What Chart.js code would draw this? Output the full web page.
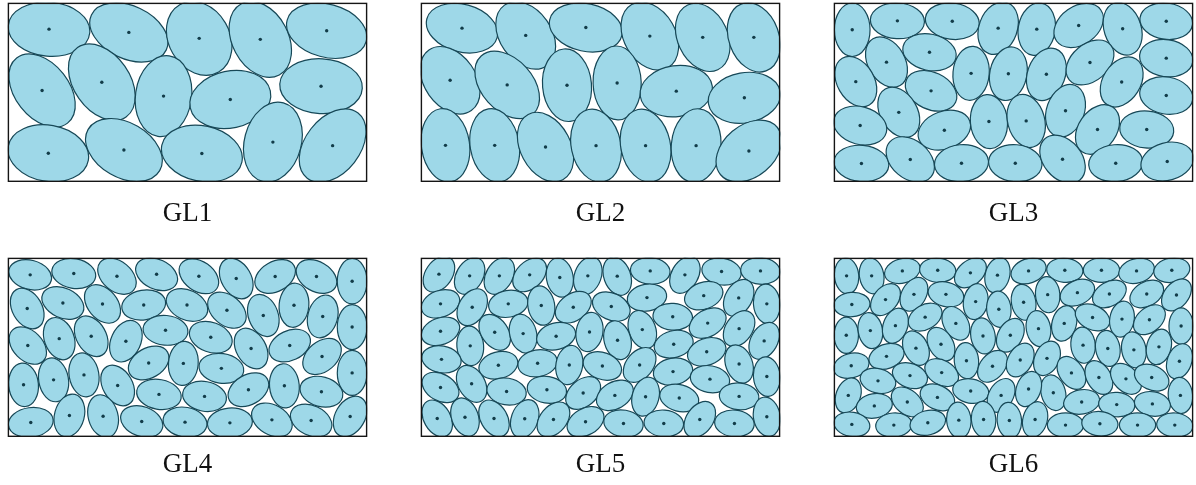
<!DOCTYPE html>
<html>
<head>
<meta charset="utf-8">
<script src="https://cdn.jsdelivr.net/npm/chart.js@4.4.1/dist/chart.umd.min.js"></script>
<style>
  body { margin: 0; background: #fff; }
  #fig { position: relative; width: 1196px; height: 485px; }
  #fig canvas { position: absolute; }
</style>
</head>
<body>
<div id="fig">
  <canvas id="gl1"></canvas>
  <canvas id="gl2"></canvas>
  <canvas id="gl3"></canvas>
  <canvas id="gl4"></canvas>
  <canvas id="gl5"></canvas>
  <canvas id="gl6"></canvas>
</div>
<script>
// Each row: [centre x, centre y, semi-axis a, semi-axis b, rotation of a in degrees]
// Units: pixels inside a 363 x 181 box, y measured down from the top edge
const labels = ["GL1", "GL2", "GL3", "GL4", "GL5", "GL6"];

const gl1 = [
  [41.7, 26.7, 41.3, 27.3, 5], [122.3, 30, 41.7, 26.7, 25], [193.3, 36, 39.3, 30.7, 60],
  [255, 37, 40.7, 28.3, 62], [322, 28.3, 41.3, 26.7, 15], [34.7, 88.7, 41.7, 27.3, 52],
  [95, 80.3, 42.7, 28.3, 55], [157.3, 94.3, 41, 28.3, -82], [224.7, 97.7, 41.3, 28.7, -12],
  [316.3, 84.3, 41.7, 27.7, 3], [41, 152, 41, 28.3, 10], [117.3, 148.7, 41.7, 27.7, 30],
  [196, 152.3, 41.3, 28, 12], [267.7, 140.7, 41, 28.7, -75], [328, 144.3, 41.7, 27.7, -52]
];

const gl2 = [
  [41.7, 25.7, 36.7, 24, 15], [106, 33, 37.3, 26, 55], [166.7, 25, 37.3, 24, 12],
  [231.3, 33.7, 36.7, 26, 60], [284.7, 35, 36, 25.3, 65], [336.3, 35, 36, 25.3, 70],
  [29.7, 78.3, 37.3, 26, 55], [87.3, 83, 39.3, 26, 48], [147.7, 83.3, 36.7, 24.7, 85],
  [198.3, 81, 37.3, 24.3, 88], [258, 89.3, 36.7, 25.7, -8], [326.7, 96, 36.7, 25.3, -10],
  [25, 144, 37.3, 24.3, 82], [74.7, 144, 37.3, 24.7, 80], [126, 145.7, 37.3, 25.3, 62],
  [177, 144.3, 37.3, 25, 78], [227, 144.3, 37.3, 25, 78], [278, 144.3, 37.3, 25, -85],
  [331.3, 149.7, 37.3, 26, -40]
];

const gl3 = [
  [18.7, 27.3, 27, 18, 90], [64.3, 18.3, 27.3, 18, 3], [119.7, 18.7, 27.3, 18.3, 8],
  [166, 25.7, 27.3, 19.3, -70], [205, 26.7, 26.7, 18.7, -80], [247.3, 23, 27.3, 19.3, -35],
  [291.7, 26.3, 27.3, 18.7, 72], [335.7, 18.7, 26.7, 18.3, 8], [53.3, 60, 27.3, 18.7, 60],
  [96.7, 50, 27.3, 18.3, 12], [138.7, 71.3, 27.3, 18.3, -85], [176.3, 71.7, 27.3, 18.7, -78],
  [214.7, 72.3, 27.3, 19, -70], [258.7, 60.3, 27.3, 18.7, -40], [290.7, 80, 27.3, 19, -58],
  [335.7, 56, 27, 18.7, 8], [22.3, 79.7, 27.3, 18.7, 60], [98.3, 89, 27.3, 18.7, 25],
  [335.7, 93.7, 27, 18.7, 10], [65.7, 110.7, 27.3, 18.7, 60], [26.7, 124, 27.3, 19, 15],
  [111.7, 128.7, 27.3, 19, -20], [156.7, 120, 27.3, 18.7, 85], [194.3, 119.3, 27.3, 18.7, 75],
  [234, 109, 27.3, 19, -70], [266.3, 128, 27.3, 19.3, -55], [316, 128, 27.3, 18.7, 5],
  [28, 162.3, 27.7, 18.3, 5], [77.3, 158.3, 27.3, 19.3, 40], [129, 162, 27.3, 18.7, -5],
  [183.3, 162, 27, 18.7, 5], [231, 158, 27.3, 19.3, 50], [284.7, 162, 27.3, 18.7, -5],
  [336.7, 160.3, 27, 19, -15]
];

const gl4 = [
  [22.7, 17.3, 22, 14.7, 15], [66.7, 16, 22.3, 15, 10], [110.3, 18.7, 22, 15, 40],
  [150.3, 16.7, 22.3, 15, 25], [193, 18.7, 22, 15, 35], [230.7, 21, 22, 15, 60],
  [270, 19, 22, 15, -30], [311.7, 19, 22, 15, 30], [347.7, 23.7, 23, 15, 90],
  [19.7, 51.3, 22, 15, 60], [55.7, 45.7, 22.3, 15, 25], [95.7, 46.7, 22, 15, 50],
  [137.3, 47.7, 22.3, 15, -10], [181, 47.7, 22, 15, 25], [221.3, 53, 22, 15, 40],
  [258, 58.3, 22, 15, 70], [289, 48, 22.3, 15, -85], [318, 59.3, 22, 15, -75],
  [347.7, 70, 22.7, 15, 90], [20.3, 88.7, 22, 15, 45], [52, 81.7, 22, 15, 70],
  [84.3, 79.3, 22, 15, 60], [119.3, 84.3, 22, 15, -65], [159.3, 73.3, 22.7, 15, 5],
  [205, 80.3, 22.3, 15, 20], [245.7, 91.7, 22, 15, 60], [284.7, 88.7, 22, 15, -25],
  [317.3, 99.7, 22, 15, -40], [142.3, 106.3, 22, 15, -30], [177.3, 106.7, 22.3, 15, -85],
  [215.7, 111.7, 22.7, 15, 8], [16, 128.3, 22, 15, 85], [46.3, 123.3, 22.3, 15, 80],
  [77, 118.3, 22.3, 15, 80], [111, 129, 22, 15, 60], [347.7, 116.3, 22.7, 15, 90],
  [279.3, 129.3, 22.3, 15, 85], [243, 133.3, 22, 15, -30], [316.7, 135.3, 22, 15, 15],
  [152.7, 138, 22.7, 15, 10], [198.7, 140, 22.3, 15, 10], [23.3, 166.3, 22.7, 15, -8],
  [62.3, 159.3, 22, 15, -75], [96.3, 160, 22, 15, 75], [135.3, 165.3, 22, 15, 20],
  [179, 166, 22.3, 15, 10], [224.3, 166.7, 22.7, 15, -5], [266.7, 163.7, 22, 15, 30],
  [306.3, 164.3, 22, 15, 25], [345.7, 160.3, 22, 15, -60]
];

const gl5 = [
  [18.4, 16.6, 20, 13.5, -55], [49.4, 18.3, 20, 13.5, -60], [79.4, 18.3, 20, 13.5, -60],
  [110, 17.3, 20, 13.5, -45], [140.4, 20, 20, 13.5, 80], [168.7, 18.3, 20, 13.5, -70],
  [20, 46.6, 20, 13.5, -20], [52, 50, 20, 13.5, -60], [88.4, 46.6, 20, 13.5, -10],
  [121.7, 48.3, 20, 13.5, 80], [154, 50, 20, 13.5, -35], [20, 74.3, 20, 13.5, -20],
  [50, 89, 20, 13.5, 85], [74.7, 75.3, 20, 13.5, 55], [103.4, 76.6, 20, 13.5, 75],
  [136.7, 79.3, 20, 13.5, -15], [170.4, 75, 20, 13.5, -80], [21, 102.6, 20, 13.5, 10],
  [78.4, 108.6, 20, 13.5, -15], [118, 106.6, 20, 13.5, -10], [150, 108.3, 20, 13.5, -80],
  [20, 131, 20, 13.5, 30], [51.4, 127.3, 20, 13.5, 60], [86.7, 135, 20, 13.5, 10],
  [127.4, 133.3, 20, 13.5, 10], [164, 136.6, 20, 13.5, -40], [16.7, 162.3, 20, 13.5, 60],
  [44.7, 161, 20, 13.5, 70], [74, 162.3, 20, 13.5, 60], [105, 162.6, 20, 13.5, -70],
  [134, 163.3, 20, 13.5, -50], [166.4, 165.6, 20, 13.5, -30],
  [198.4, 18.6, 20, 13.5, 70], [231.7, 13.3, 20, 13.5, 5], [266.7, 17.3, 20, 13.5, -60],
  [303.7, 14, 20, 13.5, 10], [343, 13.3, 20, 13.5, 5], [192.4, 49.3, 20, 13.5, 25],
  [228.4, 40.3, 20, 13.5, -10], [285.7, 38.3, 20, 13.5, -20], [321, 40.6, 20, 13.5, -60],
  [349.4, 46.6, 20, 13.5, 85], [223.7, 72.6, 20, 13.5, 70], [254.4, 59.6, 20, 13.5, 5],
  [289.7, 66, 20, 13.5, -30], [321.4, 71.6, 20, 13.5, -55], [346.7, 84, 20, 13.5, -60],
  [198.7, 83.3, 20, 13.5, 75], [255.4, 87.3, 20, 13.5, -15], [288.7, 95, 20, 13.5, -20],
  [183.4, 109.3, 20, 13.5, 20], [221, 108.3, 20, 13.5, -50], [254.7, 115, 20, 13.5, -10],
  [321.4, 107.3, 20, 13.5, 70], [292, 122.6, 20, 13.5, 10], [349.4, 120, 20, 13.5, 85],
  [196, 139, 20, 13.5, -30], [227, 140.3, 20, 13.5, -75], [261, 141.6, 20, 13.5, 15],
  [321.4, 140, 20, 13.5, 5], [204.7, 167.3, 20, 13.5, 10], [245.4, 167.3, 20, 13.5, 5],
  [281.7, 163.3, 20, 13.5, -55], [316.7, 167.3, 20, 13.5, 5], [349.4, 160.6, 20, 13.5, 80]
];

const gl6 = [
  [13, 18.3, 18.3, 12.3, 85], [38.3, 18.3, 18.3, 12.3, 80], [69.3, 13.3, 18.3, 12.3, -15],
  [105, 12.6, 18.3, 12.3, 5], [138, 15.3, 18.3, 12.3, -40], [165.3, 17.6, 18.3, 12.3, -75],
  [18.3, 47.3, 18.3, 12.3, -5], [52.3, 42.3, 18.3, 12.3, -50], [81, 37, 18.3, 12.3, -60],
  [113.3, 37, 18.3, 12.3, 15], [143.3, 44.3, 18.3, 12.3, -80], [166.7, 52, 18.3, 12.3, 85],
  [12.7, 78.3, 18.3, 12.3, 90], [37, 73.6, 18.3, 12.3, 80], [62.3, 68.6, 18.3, 12.3, -70],
  [92.3, 60, 18.3, 12.3, -30], [123.3, 66.3, 18.3, 12.3, 60], [150.7, 79, 18.3, 12.3, 80],
  [178.3, 78.3, 18.3, 12.3, -60], [17.7, 109, 18.3, 12.3, -15], [53.3, 99.6, 18.3, 12.3, -20],
  [83, 91.3, 18.3, 12.3, 65], [108.3, 87.3, 18.3, 12.3, 60], [134, 104, 18.3, 12.3, 85],
  [160.3, 109.6, 18.3, 12.3, -50], [44.7, 124.3, 18.3, 12.3, 15], [77, 119, 18.3, 12.3, 20],
  [109, 116, 18.3, 12.3, 30], [14.7, 139, 18.3, 12.3, -70], [41, 149.6, 18.3, 12.3, -10],
  [74.3, 145.6, 18.3, 12.3, 40], [104.7, 141, 18.3, 12.3, 25], [138.3, 134.6, 18.3, 12.3, 10],
  [169, 139, 18.3, 12.3, -60], [18.3, 168.3, 18.3, 12.3, 10], [60.7, 169, 18.3, 12.3, -5],
  [95, 166.6, 18.3, 12.3, -15], [126.3, 164, 18.3, 12.3, 85], [151.3, 163.3, 18.3, 12.3, 85],
  [177.3, 164.3, 18.3, 12.3, 85],
  [196.7, 13.3, 18.3, 12.3, -20], [233.3, 12.6, 18.3, 12.3, 5], [270.3, 12.6, 18.3, 12.3, 0],
  [305.7, 13.3, 18.3, 12.3, -15], [341.3, 12.6, 18.3, 12.3, -10], [191.7, 45, 18.3, 12.3, 80],
  [216, 37.3, 18.3, 12.3, 85], [246, 35.3, 18.3, 12.3, -25], [278.3, 36.6, 18.3, 12.3, -30],
  [316, 36.6, 18.3, 12.3, -30], [346, 37.6, 18.3, 12.3, -50], [206.7, 71.6, 18.3, 12.3, 80],
  [232.7, 66.3, 18.3, 12.3, -75], [261.3, 60.3, 18.3, 12.3, 25], [291, 62, 18.3, 12.3, -80],
  [318.7, 62.6, 18.3, 12.3, -40], [350.7, 69, 18.3, 12.3, 90], [188.3, 103.3, 18.3, 12.3, -60],
  [215.3, 101.6, 18.3, 12.3, -65], [251.7, 88.3, 18.3, 12.3, 85], [276.7, 91.6, 18.3, 12.3, 80],
  [303, 93, 18.3, 12.3, 80], [328.3, 90, 18.3, 12.3, -75], [349, 104.6, 18.3, 12.3, -70],
  [240, 116.3, 18.3, 12.3, 55], [267.7, 121, 18.3, 12.3, 60], [295, 122.3, 18.3, 12.3, 45],
  [321, 121, 18.3, 12.3, 25], [350, 139, 18.3, 12.3, 85], [221.7, 136.3, 18.3, 12.3, 75],
  [196.7, 132.6, 18.3, 12.3, -70], [250.3, 145.6, 18.3, 12.3, -10], [285.7, 148.3, 18.3, 12.3, 5],
  [321.7, 147.6, 18.3, 12.3, 10], [203.3, 163.3, 18.3, 12.3, -75], [234, 169, 18.3, 12.3, 0],
  [268.7, 167.6, 18.3, 12.3, 5], [306.7, 169, 18.3, 12.3, 0], [344.3, 169, 18.3, 12.3, 5]
];

const panels = [gl1, gl2, gl3, gl4, gl5, gl6];

// Box size and where each panel sits on the page
const BOX_W = 363;
const BOX_H = 181;
const TITLE_LINE = 32;
const spots = [
  { left: 6, top: 1, gap: 16 },
  { left: 419, top: 1, gap: 16 },
  { left: 832, top: 1, gap: 16 },
  { left: 6, top: 256, gap: 12 },
  { left: 419, top: 256, gap: 12 },
  { left: 832, top: 256, gap: 12 }
];

const fillColor = '#9ed8e8';
const edgeColor = '#174857';
const dotColor = '#123c49';

// Draws each ellipse around its centre point, sized through the scales
const ellipsePlugin = {
  id: 'ellipses',
  beforeDatasetsDraw(chart) {
    const { ctx, chartArea: ca, scales } = chart;
    const xs = scales.x, ys = scales.y;
    ctx.save();
    ctx.beginPath();
    ctx.rect(ca.left, ca.top, ca.width, ca.height);
    ctx.clip();
    chart.data.datasets[0].data.forEach(p => {
      const cx = xs.getPixelForValue(p.x);
      const cy = ys.getPixelForValue(p.y);
      const rx = Math.abs(xs.getPixelForValue(p.x + p.a) - cx);
      const ry = Math.abs(ys.getPixelForValue(p.y + p.b) - cy);
      ctx.beginPath();
      ctx.ellipse(cx, cy, rx, ry, p.rot * Math.PI / 180, 0, 2 * Math.PI);
      ctx.fillStyle = fillColor;
      ctx.fill();
      ctx.lineWidth = 1.2;
      ctx.strokeStyle = edgeColor;
      ctx.stroke();
    });
    ctx.restore();
  }
};

// Black frame round the plot area
const framePlugin = {
  id: 'frame',
  afterDraw(chart) {
    const { ctx, chartArea: ca } = chart;
    ctx.save();
    ctx.lineWidth = 1.4;
    ctx.strokeStyle = '#151515';
    ctx.strokeRect(ca.left + 0.7, ca.top + 0.7, ca.width - 1.4, ca.height - 1.4);
    ctx.restore();
  }
};

panels.forEach((rows, i) => {
  const spot = spots[i];
  const canvas = document.getElementById('gl' + (i + 1));
  canvas.width = BOX_W;
  canvas.height = BOX_H + spot.gap + TITLE_LINE;
  canvas.style.left = spot.left + 'px';
  canvas.style.top = spot.top + 'px';

  new Chart(canvas, {
    type: 'scatter',
    data: {
      datasets: [{
        data: rows.map(r => ({ x: r[0], y: r[1], a: r[2], b: r[3], rot: r[4] })),
        pointRadius: 1.7,
        pointHoverRadius: 1.7,
        pointBackgroundColor: dotColor,
        pointBorderWidth: 0
      }]
    },
    options: {
      responsive: false,
      animation: false,
      devicePixelRatio: 1,
      events: [],
      layout: { padding: 0 },
      scales: {
        x: { type: 'linear', min: 0, max: BOX_W, display: false },
        y: { type: 'linear', min: 0, max: BOX_H, reverse: true, display: false }
      },
      plugins: {
        legend: { display: false },
        tooltip: { enabled: false },
        title: {
          display: true,
          text: labels[i],
          position: 'bottom',
          color: '#111',
          font: { family: '"Liberation Serif", serif', size: 27, weight: 'normal', lineHeight: TITLE_LINE + 'px' },
          padding: { top: spot.gap, bottom: 0 }
        }
      }
    },
    plugins: [ellipsePlugin, framePlugin]
  });
});
</script>
</body>
</html>
